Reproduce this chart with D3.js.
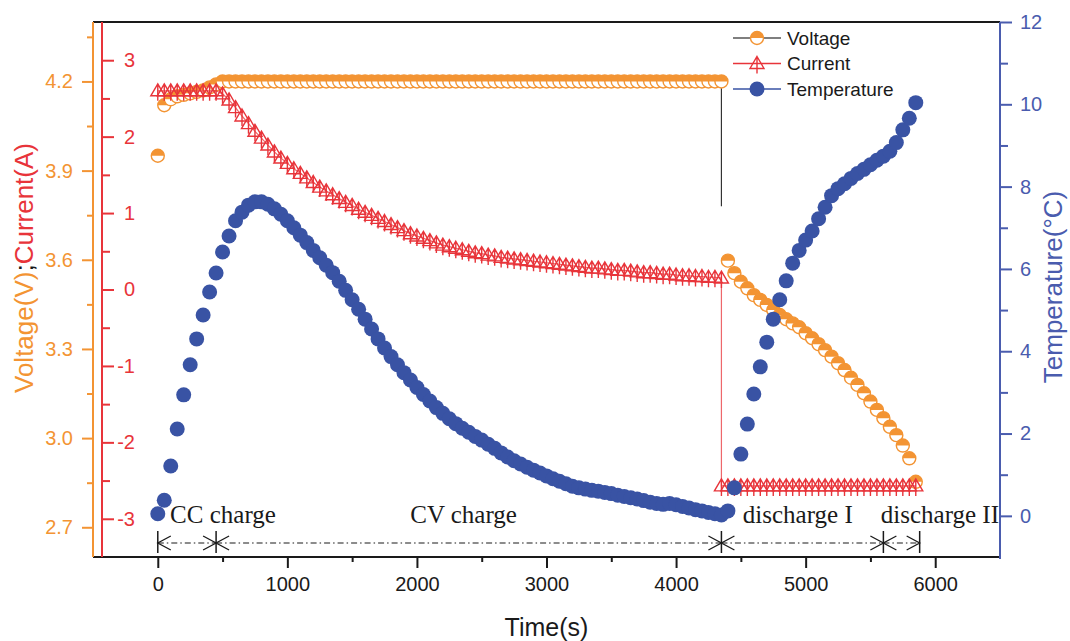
<!DOCTYPE html>
<html>
<head>
<meta charset="utf-8">
<script src="https://cdn.jsdelivr.net/npm/d3@7"></script>
<style>
  body { margin: 0; background: #fff; }
</style>
</head>
<body>
<div id="chart"></div>
<script>
// sample times (s) for the charge part and the discharge part
const chargeTime = [
  0, 50, 100, 150, 200, 250, 300, 350, 400, 450,
  500, 550, 600, 650, 700, 750, 800, 850, 900, 950,
  1000, 1050, 1100, 1150, 1200, 1250, 1300, 1350, 1400, 1450,
  1500, 1550, 1600, 1650, 1700, 1750, 1800, 1850, 1900, 1950,
  2000, 2050, 2100, 2150, 2200, 2250, 2300, 2350, 2400, 2450,
  2500, 2550, 2600, 2650, 2700, 2750, 2800, 2850, 2900, 2950,
  3000, 3050, 3100, 3150, 3200, 3250, 3300, 3350, 3400, 3450,
  3500, 3550, 3600, 3650, 3700, 3750, 3800, 3850, 3900, 3950,
  4000, 4050, 4100, 4150, 4200, 4250, 4300, 4350
];
const dischargeTime = [
  4400, 4450, 4500, 4550, 4600, 4650, 4700, 4750, 4800, 4850,
  4900, 4950, 5000, 5050, 5100, 5150, 5200, 5250, 5300, 5350,
  5400, 5450, 5500, 5550, 5600, 5650, 5700, 5750, 5800, 5850
];
const currentDischargeTime = [
  4350, 4400, 4450, 4500, 4550, 4600, 4650, 4700, 4750, 4800, 4850,
  4900, 4950, 5000, 5050, 5100, 5150, 5200, 5250, 5300, 5350,
  5400, 5450, 5500, 5550, 5600, 5650, 5700, 5750, 5800, 5850
];

// Voltage (V)
const voltageCharge = [
  3.95, 4.12, 4.14, 4.15, 4.155, 4.16, 4.165, 4.17, 4.18, 4.19,
  4.2, 4.2, 4.2, 4.2, 4.2, 4.2, 4.2, 4.2, 4.2, 4.2,
  4.2, 4.2, 4.2, 4.2, 4.2, 4.2, 4.2, 4.2, 4.2, 4.2,
  4.2, 4.2, 4.2, 4.2, 4.2, 4.2, 4.2, 4.2, 4.2, 4.2,
  4.2, 4.2, 4.2, 4.2, 4.2, 4.2, 4.2, 4.2, 4.2, 4.2,
  4.2, 4.2, 4.2, 4.2, 4.2, 4.2, 4.2, 4.2, 4.2, 4.2,
  4.2, 4.2, 4.2, 4.2, 4.2, 4.2, 4.2, 4.2, 4.2, 4.2,
  4.2, 4.2, 4.2, 4.2, 4.2, 4.2, 4.2, 4.2, 4.2, 4.2,
  4.2, 4.2, 4.2, 4.2, 4.2, 4.2, 4.2, 4.2
];
const voltageDischarge = [
  3.597, 3.555, 3.526, 3.504, 3.481, 3.465, 3.448, 3.431, 3.414, 3.400,
  3.386, 3.373, 3.353, 3.336, 3.316, 3.296, 3.274, 3.252, 3.229, 3.203,
  3.179, 3.151, 3.123, 3.095, 3.067, 3.038, 3.010, 2.975, 2.932, 2.853
];
// thin dark line drawn at the end of charge
const voltageDropTime = 4350;
const voltageDropRange = [4.2, 3.78];

// Current (A)
const currentCharge = [
  2.60, 2.60, 2.60, 2.60, 2.60, 2.60, 2.60, 2.60, 2.60, 2.60,
  2.56, 2.48, 2.38, 2.27, 2.17, 2.07, 1.98, 1.89, 1.80, 1.72,
  1.65, 1.58, 1.52, 1.46, 1.40, 1.34, 1.29, 1.24, 1.19, 1.14,
  1.10, 1.05, 1.01, 0.97, 0.93, 0.89, 0.85, 0.81, 0.77, 0.73,
  0.70, 0.67, 0.64, 0.61, 0.58, 0.56, 0.54, 0.52, 0.50, 0.48,
  0.47, 0.45, 0.44, 0.42, 0.41, 0.40, 0.39, 0.38, 0.37, 0.36,
  0.35, 0.34, 0.33, 0.32, 0.31, 0.30, 0.29, 0.28, 0.28, 0.27,
  0.26, 0.25, 0.25, 0.24, 0.23, 0.22, 0.22, 0.21, 0.20, 0.20,
  0.19, 0.18, 0.18, 0.17, 0.17, 0.16, 0.16, 0.15
];
const currentDischarge = [
  -2.57, -2.57, -2.57, -2.57, -2.57, -2.57, -2.57, -2.57, -2.57, -2.57, -2.57,
  -2.57, -2.57, -2.57, -2.57, -2.57, -2.57, -2.57, -2.57, -2.57, -2.57,
  -2.57, -2.57, -2.57, -2.57, -2.57, -2.57, -2.57, -2.57, -2.57, -2.57
];

// Temperature (°C)
const temperatureCharge = [
  0.05, 0.38, 1.21, 2.11, 2.94, 3.67, 4.30, 4.88, 5.44, 5.90,
  6.41, 6.80, 7.17, 7.38, 7.55, 7.63, 7.63, 7.57, 7.46, 7.33,
  7.17, 7.00, 6.82, 6.64, 6.45, 6.27, 6.09, 5.91, 5.70, 5.48,
  5.25, 5.02, 4.78, 4.54, 4.30, 4.08, 3.87, 3.67, 3.48, 3.30,
  3.12, 2.95, 2.79, 2.63, 2.49, 2.36, 2.24, 2.13, 2.03, 1.93,
  1.84, 1.74, 1.64, 1.53, 1.43, 1.34, 1.26, 1.18, 1.11, 1.04,
  0.97, 0.90, 0.84, 0.78, 0.72, 0.68, 0.65, 0.62, 0.60, 0.57,
  0.54, 0.50, 0.47, 0.44, 0.41, 0.37, 0.33, 0.30, 0.28, 0.30,
  0.27, 0.23, 0.19, 0.15, 0.12, 0.08, 0.05, 0.02
];
const temperatureDischarge = [
  0.12, 0.68, 1.50, 2.23, 2.96, 3.62, 4.22, 4.78, 5.25, 5.71,
  6.14, 6.45, 6.70, 6.92, 7.22, 7.50, 7.78, 7.95, 8.07, 8.20,
  8.32, 8.42, 8.53, 8.64, 8.74, 8.86, 9.07, 9.38, 9.66, 10.04
];

// axis ticks
const timeTicks = [0, 1000, 2000, 3000, 4000, 5000, 6000];
const timeMinorTicks = [500, 1500, 2500, 3500, 4500, 5500];
const voltageTicks = [2.7, 3.0, 3.3, 3.6, 3.9, 4.2];
const voltageMinorTicks = [2.85, 3.15, 3.45, 3.75, 4.05, 4.35];
const currentTicks = [-3, -2, -1, 0, 1, 2, 3];
const currentMinorTicks = [-2.5, -1.5, -0.5, 0.5, 1.5, 2.5];
const temperatureTicks = [0, 2, 4, 6, 8, 10, 12];
const temperatureMinorTicks = [1, 3, 5, 7, 9, 11];

// stages of the test (times at the arrow bars) and their labels
const phaseBounds = [0, 450, 4350, 5600, 5880];
const phaseLabels = [
  { text: "CC charge", t: 95, anchor: "start" },
  { text: "CV charge", t: 2360, anchor: "middle" },
  { text: "discharge I", t: 4515, anchor: "start" },
  { text: "discharge II", t: 5580, anchor: "start" }
];

const legendItems = ["Voltage", "Current", "Temperature"];

// ---------- layout ----------
const width = 1070, height = 641;
const plotLeft = 93, plotRight = 1000, plotTop = 22, plotBottom = 557;
const redAxisX = 102;

const orange = "#F39433";
const red = "#E8343A";
const blue = "#3953A4";
const axisBlue = "#4A5CAE";
const ink = "#1a1a1a";
const fontSans = "'Liberation Sans', Arial, sans-serif";

const svg = d3.select("#chart")
  .append("svg")
  .attr("width", width)
  .attr("height", height)
  .style("font-family", fontSans);

svg.append("rect").attr("width", width).attr("height", height).attr("fill", "#fff");

// scales
const xScale = d3.scaleLinear().domain([-500, 6500]).range([plotLeft, plotRight]);
const yVolt = d3.scaleLinear().domain([2.6, 4.4]).range([plotBottom, plotTop]);
const yCurr = d3.scaleLinear().domain([-3.5, 3.5]).range([plotBottom, plotTop]);
const yTemp = d3.scaleLinear().domain([-1, 12]).range([plotBottom, plotTop]);

const styleAxis = (g, color) => {
  g.select(".domain").remove();
  g.selectAll(".tick line").attr("stroke", color).attr("stroke-width", 2);
  g.selectAll(".tick text").attr("fill", color).style("font-size", "20px");
  g.style("font-family", fontSans);
};

// bottom axis (time)
svg.append("g")
  .attr("transform", `translate(0, ${plotBottom})`)
  .call(d3.axisBottom(xScale).tickValues(timeTicks).tickSize(11).tickPadding(9).tickFormat(d3.format("d")))
  .call(g => styleAxis(g, ink));
svg.append("g")
  .attr("transform", `translate(0, ${plotBottom})`)
  .call(d3.axisBottom(xScale).tickValues(timeMinorTicks).tickSize(5).tickFormat(""))
  .call(g => styleAxis(g, ink));
svg.append("line")
  .attr("x1", plotLeft).attr("x2", plotRight + 1)
  .attr("y1", plotBottom).attr("y2", plotBottom)
  .attr("stroke", ink).attr("stroke-width", 2);
// top frame
svg.append("line")
  .attr("x1", plotLeft).attr("x2", plotRight)
  .attr("y1", plotTop).attr("y2", plotTop)
  .attr("stroke", ink).attr("stroke-width", 2);

// voltage axis (outer left)
svg.append("g")
  .attr("transform", `translate(${plotLeft}, 0)`)
  .call(d3.axisLeft(yVolt).tickValues(voltageTicks).tickSize(11).tickPadding(9).tickFormat(d3.format(".1f")))
  .call(g => styleAxis(g, orange));
svg.append("g")
  .attr("transform", `translate(${plotLeft}, 0)`)
  .call(d3.axisLeft(yVolt).tickValues(voltageMinorTicks).tickSize(6).tickFormat(""))
  .call(g => styleAxis(g, orange));
svg.append("line")
  .attr("x1", plotLeft).attr("x2", plotLeft)
  .attr("y1", plotTop).attr("y2", plotBottom)
  .attr("stroke", orange).attr("stroke-width", 2);

// current axis (inner left, ticks inward)
svg.append("g")
  .attr("transform", `translate(${redAxisX}, 0)`)
  .call(d3.axisRight(yCurr).tickValues(currentTicks).tickSize(12).tickFormat(d => String(d)))
  .call(g => styleAxis(g, red))
  .call(g => g.selectAll(".tick text").attr("x", 33).attr("text-anchor", "end"));
svg.append("g")
  .attr("transform", `translate(${redAxisX}, 0)`)
  .call(d3.axisRight(yCurr).tickValues(currentMinorTicks).tickSize(8).tickFormat(""))
  .call(g => styleAxis(g, red));
svg.append("line")
  .attr("x1", redAxisX).attr("x2", redAxisX)
  .attr("y1", plotTop).attr("y2", plotBottom)
  .attr("stroke", red).attr("stroke-width", 2);

// temperature axis (right)
svg.append("g")
  .attr("transform", `translate(${plotRight}, 0)`)
  .call(d3.axisRight(yTemp).tickValues(temperatureTicks).tickSize(12).tickPadding(8))
  .call(g => styleAxis(g, axisBlue));
svg.append("g")
  .attr("transform", `translate(${plotRight}, 0)`)
  .call(d3.axisRight(yTemp).tickValues(temperatureMinorTicks).tickSize(8).tickFormat(""))
  .call(g => styleAxis(g, axisBlue));
svg.append("line")
  .attr("x1", plotRight).attr("x2", plotRight)
  .attr("y1", plotTop).attr("y2", plotBottom + 2)
  .attr("stroke", axisBlue).attr("stroke-width", 2);

// axis titles
svg.append("text")
  .text("Time(s)")
  .attr("x", (plotLeft + plotRight) / 2)
  .attr("y", 636)
  .attr("text-anchor", "middle")
  .attr("fill", ink)
  .style("font-size", "25px");

const leftTitle = svg.append("text")
  .attr("transform", "translate(33, 268) rotate(-90)")
  .attr("text-anchor", "middle")
  .style("font-size", "26px");
leftTitle.append("tspan").text("Voltage(V)").attr("fill", orange);
leftTitle.append("tspan").text(";").attr("fill", ink);
leftTitle.append("tspan").text("Current(A)").attr("fill", red);

svg.append("text")
  .text("Temperature(°C)")
  .attr("transform", "translate(1062, 287) rotate(-90)")
  .attr("text-anchor", "middle")
  .attr("fill", axisBlue)
  .style("font-size", "26px");

// ---------- series ----------
const voltData = chargeTime.map((t, i) => ({ t, v: voltageCharge[i] }))
  .concat(dischargeTime.map((t, i) => ({ t, v: voltageDischarge[i] })));
const currData = chargeTime.map((t, i) => ({ t, v: currentCharge[i] }))
  .concat(currentDischargeTime.map((t, i) => ({ t, v: currentDischarge[i] })));
const tempData = chargeTime.map((t, i) => ({ t, v: temperatureCharge[i] }))
  .concat(dischargeTime.map((t, i) => ({ t, v: temperatureDischarge[i] })));

const voltHalf = "M-6.5,0 A6.5,6.5 0 0 1 6.5,0 Z";
const currShape = "M0,-7 L7,5 L-7,5 Z M0,-7 L0,10";

const drawVoltMarker = sel => {
  sel.append("circle").attr("r", 6.5).attr("fill", "#fff").attr("stroke", orange).attr("stroke-width", 1.4);
  sel.append("path").attr("d", voltHalf).attr("fill", orange);
};
const drawCurrMarker = sel => {
  sel.append("path").attr("d", currShape).attr("fill", "none").attr("stroke", red).attr("stroke-width", 1.4);
};

// voltage
svg.append("line")
  .attr("x1", xScale(voltageDropTime)).attr("x2", xScale(voltageDropTime))
  .attr("y1", yVolt(voltageDropRange[0])).attr("y2", yVolt(voltageDropRange[1]))
  .attr("stroke", "#333").attr("stroke-width", 1.2);

svg.append("g").selectAll("g")
  .data(voltData)
  .join("g")
  .attr("transform", d => `translate(${xScale(d.t)}, ${yVolt(d.v)})`)
  .call(drawVoltMarker);

// current
const currLine = d3.line().x(d => xScale(d.t)).y(d => yCurr(d.v));
svg.append("path")
  .attr("d", currLine(currData))
  .attr("fill", "none")
  .attr("stroke", red)
  .attr("stroke-opacity", 0.75)
  .attr("stroke-width", 1.2);

svg.append("g").selectAll("g")
  .data(currData)
  .join("g")
  .attr("transform", d => `translate(${xScale(d.t)}, ${yCurr(d.v)})`)
  .call(drawCurrMarker);

// temperature
svg.append("g").selectAll("circle")
  .data(tempData)
  .join("circle")
  .attr("cx", d => xScale(d.t))
  .attr("cy", d => yTemp(d.v))
  .attr("r", 7.5)
  .attr("fill", blue);

// ---------- stage annotations ----------
const arrowY = plotBottom - 14;
const phases = svg.append("g").attr("stroke", ink).attr("fill", "none");

phaseBounds.forEach(t => {
  phases.append("line")
    .attr("x1", xScale(t)).attr("x2", xScale(t))
    .attr("y1", arrowY - 12).attr("y2", arrowY + 10)
    .attr("stroke-width", 1.5);
});

d3.pairs(phaseBounds).forEach(([t0, t1]) => {
  const a = xScale(t0), b = xScale(t1);
  phases.append("line")
    .attr("x1", a).attr("x2", b)
    .attr("y1", arrowY).attr("y2", arrowY)
    .attr("stroke-width", 1.2)
    .attr("stroke-dasharray", "6,3,1.5,3");
  phases.append("path")
    .attr("d", `M${a + 13},${arrowY - 7} L${a},${arrowY} L${a + 13},${arrowY + 7}`)
    .attr("stroke-width", 1.3);
  phases.append("path")
    .attr("d", `M${b - 13},${arrowY - 7} L${b},${arrowY} L${b - 13},${arrowY + 7}`)
    .attr("stroke-width", 1.3);
});

svg.append("g").selectAll("text")
  .data(phaseLabels)
  .join("text")
  .attr("x", d => xScale(d.t))
  .attr("y", arrowY - 20)
  .attr("text-anchor", d => d.anchor)
  .attr("fill", ink)
  .style("font-family", "'Liberation Serif', 'Times New Roman', serif")
  .style("font-size", "25px")
  .text(d => d.text);

// ---------- legend ----------
const legend = svg.append("g").attr("transform", "translate(733, 38)");
const legendColors = ["#555", red, blue];
legendItems.forEach((name, i) => {
  const row = legend.append("g").attr("transform", `translate(0, ${i * 25.5})`);
  row.append("line")
    .attr("x1", 0).attr("x2", 48)
    .attr("stroke", legendColors[i]).attr("stroke-width", 1.3);
  const m = row.append("g").attr("transform", "translate(24, 0)");
  if (i === 0) m.call(drawVoltMarker);
  else if (i === 1) m.call(drawCurrMarker);
  else m.append("circle").attr("r", 7.5).attr("fill", blue);
  row.append("text")
    .attr("x", 54)
    .attr("dy", "0.35em")
    .attr("fill", ink)
    .style("font-size", "19px")
    .text(name);
});
</script>
</body>
</html>
